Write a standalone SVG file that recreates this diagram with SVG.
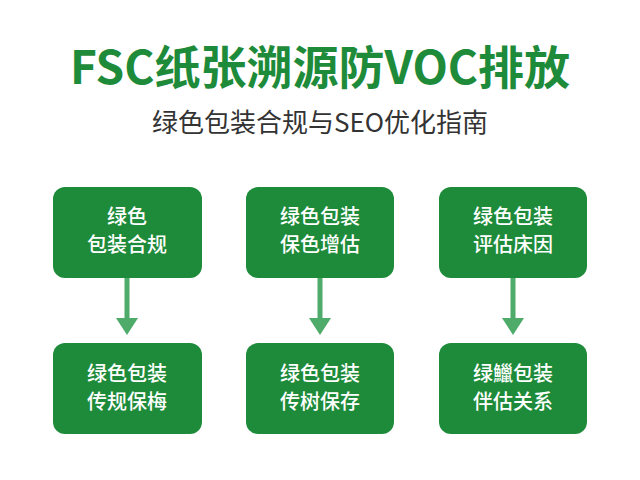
<svg xmlns="http://www.w3.org/2000/svg" width="640" height="480" viewBox="0 0 640 480">
<defs>
<style>
.box{fill:#1e8b3a}
.t{font-family:"Noto Sans CJK SC","Noto Sans",sans-serif;font-size:20px;fill:#fff;text-anchor:middle;font-weight:500}
.c{stroke:#4fab69;stroke-width:5;fill:none}
.h{fill:#4fab69}
</style>
</defs>
<rect width="640" height="480" fill="#fff"/>
<text x="320" y="84" text-anchor="middle" font-family="'Noto Sans CJK SC','Noto Sans',sans-serif" font-size="46" font-weight="bold" fill="#1e8b3a">FSC纸张溯源防VOC排放</text>
<text x="320" y="132" text-anchor="middle" font-family="'Noto Sans CJK SC','Noto Sans',sans-serif" font-size="26" fill="#333">绿色包装合规与SEO优化指南</text>
<g id="connectors">
<line class="c" x1="127" y1="278" x2="127" y2="320"/><polygon class="h" points="116,318 138,318 127,335"/>
<line class="c" x1="320" y1="278" x2="320" y2="320"/><polygon class="h" points="309,318 331,318 320,335"/>
<line class="c" x1="513" y1="278" x2="513" y2="320"/><polygon class="h" points="502,318 524,318 513,335"/>
</g>
<g id="n1"><rect class="box" x="53" y="187" width="149" height="91" rx="12"/><text class="t" x="127" y="224">绿色</text><text class="t" x="127" y="252">包装合规</text></g>
<g id="n2"><rect class="box" x="246" y="187" width="148" height="91" rx="12"/><text class="t" x="320" y="224">绿色包装</text><text class="t" x="320" y="252">保色增估</text></g>
<g id="n3"><rect class="box" x="439" y="187" width="148" height="91" rx="12"/><text class="t" x="513" y="224">绿色包装</text><text class="t" x="513" y="252">评估床因</text></g>
<g id="n4"><rect class="box" x="53" y="343" width="149" height="91" rx="12"/><text class="t" x="127" y="381">绿色包装</text><text class="t" x="127" y="409">传规保梅</text></g>
<g id="n5"><rect class="box" x="246" y="343" width="148" height="91" rx="12"/><text class="t" x="320" y="381">绿色包装</text><text class="t" x="320" y="409">传树保存</text></g>
<g id="n6"><rect class="box" x="439" y="343" width="148" height="91" rx="12"/><text class="t" x="513" y="381">绿鱲包装</text><text class="t" x="513" y="409">伴估关系</text></g>
</svg>
